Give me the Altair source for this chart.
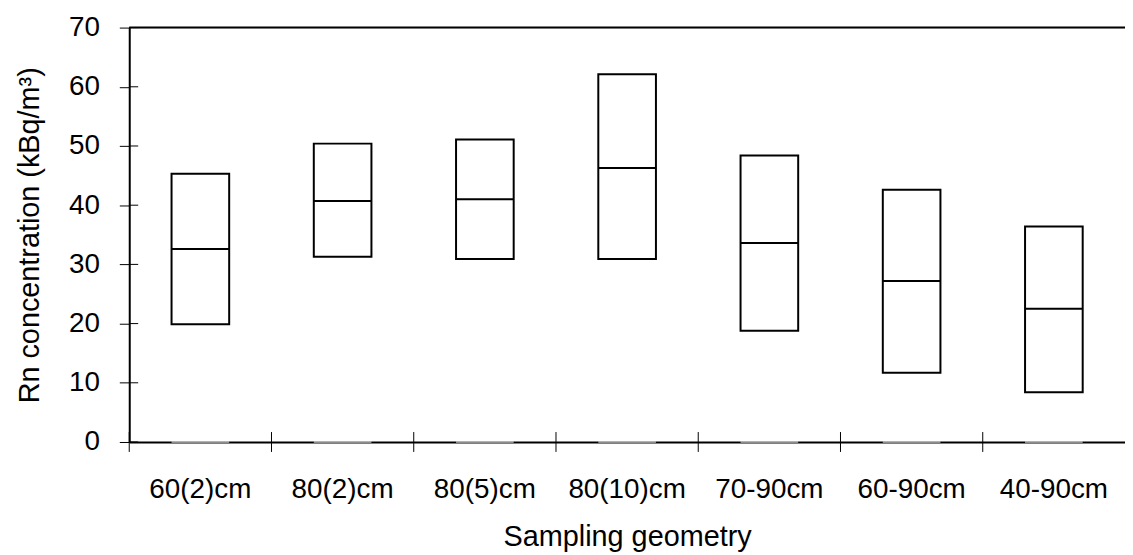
import altair as alt
import pandas as pd

categories = ["60(2)cm", "80(2)cm", "80(5)cm", "80(10)cm", "70-90cm", "60-90cm", "40-90cm"]
low = [19.9, 31.3, 30.9, 30.9, 18.8, 11.7, 8.4]
median = [32.6, 40.7, 41.0, 46.3, 33.6, 27.2, 22.5]
high = [45.3, 50.4, 51.1, 62.1, 48.4, 42.6, 36.4]
y_ticks = [0, 10, 20, 30, 40, 50, 60, 70]

W, H = 1002, 417
BAND = W / len(categories)
FONT = "Liberation Sans"

df = pd.DataFrame({"cat": categories, "low": low, "median": median, "high": high})
ticks_df = pd.DataFrame({"v": y_ticks})

xs = alt.Scale(domain=categories, paddingInner=0, paddingOuter=0)
ys = alt.Scale(domain=[0, 70], nice=False, zero=True)

x_axis = alt.Axis(
    title="Sampling geometry", labelAngle=0, labelAlign="center", labelBaseline="top",
    labelFlush=False, labelBound=False,
    labelFont=FONT, labelFontSize=28, labelColor="black", labelPadding=24,
    titleFont=FONT, titleFontSize=29, titleFontWeight="normal", titleColor="black", titlePadding=19,
    domainColor="black", domainWidth=2, tickOpacity=0, tickSize=10,
)
y_axis = alt.Axis(
    title="Rn concentration (kBq/m³)", values=y_ticks, grid=False,
    labelFont=FONT, labelFontSize=28, labelColor="black", labelPadding=20,
    titleFont=FONT, titleFontSize=29, titleFontWeight="normal", titleColor="black", titlePadding=24,
    domainColor="black", domainWidth=2, tickColor="black", tickWidth=1, tickSize=10,
)

base = alt.Chart(df)

boxes = base.mark_bar(fill="white", stroke="black", strokeWidth=2, size=58).encode(
    x=alt.X("cat:N", scale=xs, axis=x_axis, sort=categories),
    y=alt.Y("low:Q", scale=ys, axis=y_axis),
    y2="high:Q",
)

medians = base.mark_bar(fill="black", stroke="black", strokeWidth=2, size=58).encode(
    x=alt.X("cat:N", scale=xs, sort=categories),
    y=alt.Y("median:Q", scale=ys),
    y2="median:Q",
)

baseline_grey = base.mark_tick(color="#c8c8c8", thickness=2, size=58).encode(
    x=alt.X("cat:N", scale=xs, sort=categories),
    y=alt.datum(0, scale=ys),
)

x_ticks = base.mark_rule(color="black", strokeWidth=1, xOffset=-BAND / 2).encode(
    x=alt.X("cat:N", scale=xs, sort=categories),
    y=alt.value(H - 10),
    y2=alt.value(H + 10),
)

inner_y_ticks = alt.Chart(ticks_df).mark_rule(color="black", strokeWidth=1).encode(
    y=alt.Y("v:Q", scale=ys),
    x=alt.value(0),
    x2=alt.value(9),
)

top_line = alt.Chart(pd.DataFrame({"v": [max(y_ticks)]})).mark_rule(color="black", strokeWidth=2).encode(
    y=alt.Y("v:Q", scale=ys),
    x=alt.value(0),
    x2=alt.value(W),
)

chart = alt.layer(baseline_grey, boxes, medians, x_ticks, inner_y_ticks, top_line).properties(
    width=W, height=H,
    autosize=alt.AutoSizeParams(type="none"),
    padding={"left": 122, "top": 18, "right": 0, "bottom": 112},
).configure_view(stroke=None).configure(background="white")

chart.save("out.html", embed_options={"renderer": "svg", "actions": False})
